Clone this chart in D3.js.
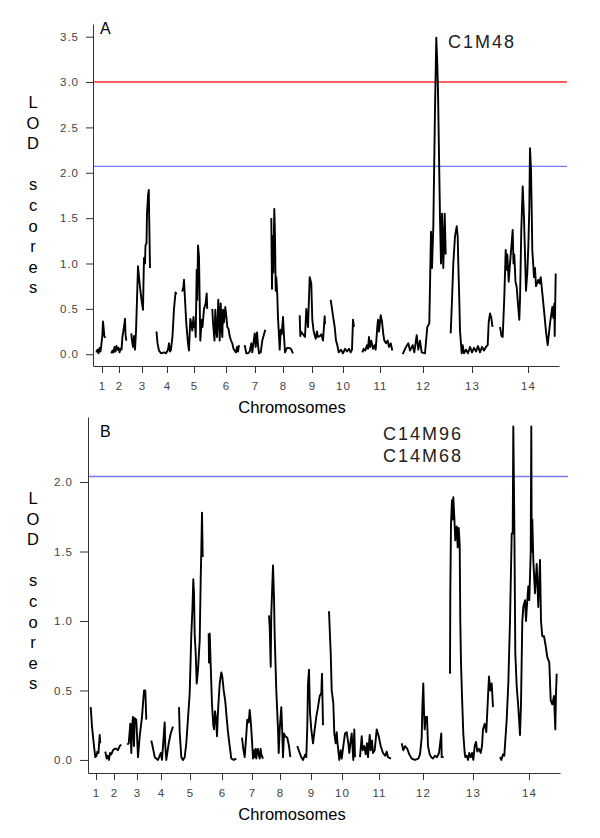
<!DOCTYPE html>
<html lang="en">
<head>
<meta charset="UTF-8">
<title>LOD scores by chromosome</title>
<script src="https://d3js.org/d3.v7.min.js"></script>
<style>
  body { margin: 0; background: #fff; font-family: Arial, "Liberation Sans", sans-serif; }
  .tick text { fill: #444; font-size: 11.5px; letter-spacing: 1px; font-family: Arial, "Liberation Sans", sans-serif; }
  .domain, .tick line { stroke: #333; }
  .lod { fill: none; stroke: #000; stroke-width: 1.9px; stroke-linejoin: round; }
  .side { font-size: 16.5px; fill: #000; }
  .marker { font-size: 18px; letter-spacing: 2px; fill: #222; }
</style>
</head>
<body>
<svg width="600" height="838"></svg>
<script>
const chromosomes = ["1","2","3","4","5","6","7","8","9","10","11","12","13","14"];
// chromosome label positions along the map, one list per panel
const chromPosA = [9, 26, 49, 74, 101, 133, 162, 190, 219, 250, 287, 330, 379, 435];
const chromPosB = [8, 26, 49, 73, 102, 134, 164, 192, 223, 254, 291, 335, 385, 441];
const yTicksA = [0, 0.5, 1, 1.5, 2, 2.5, 3, 3.5];
const yTicksB = [0, 0.5, 1, 1.5, 2];
const thresholdsA = [3.0, 2.07];
const thresholdsB = [2.04];
const markersA = ["C1M48"];
const markersB = ["C14M96", "C14M68"];

// panel A: [position, LOD] per chromosome
const lodA = [
  [[3.3,0.02],[4.5,0.05],[5.5,0.01],[6.5,0.07],[7.5,0.03],[8.5,0.12],[9.3,0.2],[10,0.36],[10.7,0.28],[11.3,0.2],[12.3,0.18]],
  [[18.3,0.01],[19.5,0.04],[20.5,0.02],[21.5,0.08],[22.5,0.03],[23.5,0.09],[24.5,0.05],[25.5,0.07],[26.5,0.02],[27.5,0.06],[28.5,0.05],[29.5,0.2],[31,0.3],[32,0.39],[32.5,0.22],[33.3,0.15]],
  [[38.3,0.23],[39,0.15],[40,0.08],[41,0.2],[42,0.05],[43,0.25],[44,0.6],[45,0.97],[46,0.85],[47,0.74],[48.5,0.6],[50,0.49],[50.5,0.8],[51,1.06],[52,1.0],[52.5,1.2],[53.5,1.22],[54,1.55],[55,1.75],[55.8,1.81],[56.2,1.5],[57,0.95]],
  [[63.5,0.25],[64.5,0.12],[66,0.04],[68,0.01],[71,0.02],[73,0.01],[75,0.05],[76,0.12],[77,0.03],[78,0.05],[79.5,0.2],[81,0.5],[82.5,0.68],[83.5,0.66]],
  [[89.3,0.69],[90.5,0.75],[91,0.82],[92,0.6],[93.3,0.34],[95,0.12],[96,0.04],[97.3,0.39],[98.5,0.33],[99.3,0.26],[100.5,0.41],[101,0.3],[102,0.35],[102.7,0.19],[103.7,0.93],[104.3,0.6],[105,1.2],[106,1.07],[107.3,0.15],[108.7,0.38],[109.5,0.3],[111,0.5],[112.5,0.55],[113.7,0.67],[114.2,0.5]],
  [[119.3,0.5],[120,0.35],[121.5,0.15],[122.3,0.49],[123,0.3],[124,0.19],[125.3,0.6],[126,0.4],[126.7,0.15],[127.7,0.56],[128.5,0.3],[129.3,0.19],[130,0.49],[131,0.35],[132.3,0.52],[133.5,0.4],[134.3,0.3],[135.5,0.28],[136.7,0.2],[138,0.15],[139.3,0.12],[140.5,0.06],[141.7,0.04],[143,0.02],[144,0.08],[145,0.03],[146,0.1]],
  [[151.7,0.1],[153.3,0.01],[155,0.01],[156.7,0.03],[158.3,0.12],[159.3,0.02],[161.7,0.23],[162.7,0.08],[164,0.24],[165,0.1],[166,0.01],[167.7,0.02],[169.3,0.15],[171,0.22],[172.3,0.27]],
  [[178.3,1.5],[179,0.72],[179.7,1.3],[180.3,0.9],[181.3,1.6],[182,1.3],[182.7,0.7],[183.3,0.85],[184.3,0.65],[185,0.4],[186,0.2],[186.7,0.05],[187.7,0.27],[188.7,0.22],[190,0.41],[191,0.2],[192,0.02],[194,0.07],[196,0.07],[198,0.06],[200,0.01]],
  [[206.7,0.43],[207.3,0.2],[208,0.25],[210,0.22],[212,0.19],[213.3,0.5],[215,0.3],[216.7,0.85],[218.3,0.78],[219.3,0.38],[220.7,0.25],[222.7,0.17],[224,0.25],[225,0.19],[227,0.2],[228.3,0.22],[230,0.15],[231.7,0.42],[232,0.33]],
  [[237.7,0.6],[239,0.5],[240.3,0.4],[241.7,0.3],[243,0.15],[244.3,0.1],[245.7,0.02],[248,0.05],[250,0.01],[252,0.06],[254,0.03],[256,0.06],[257.7,0.02],[259,0.05],[260,0.38],[261,0.3]],
  [[269.3,0.02],[270.7,0.06],[272.3,0.04],[274,0.1],[275,0.06],[276,0.19],[277,0.08],[278.3,0.15],[280,0.06],[281.7,0.1],[282.7,0.05],[284.3,0.3],[285,0.38],[286,0.25],[287.7,0.43],[289,0.36],[290.3,0.22],[291.3,0.15],[293,0.12],[294.7,0.15],[296,0.08],[297.7,0.12],[299.3,0.04]],
  [[309.7,0.0],[313,0.08],[315.3,0.12],[317,0.04],[319.7,0.1],[321.3,0.02],[323.7,0.21],[325.3,0.05],[327,0.15],[328.7,0.02],[332,0.01],[334.3,0.3],[336.3,0.34],[338,1.35],[339,0.95],[340.3,1.4],[342,2.7],[343.3,3.49],[344.3,3.2],[345,2.9],[346,2.2],[347,1.5],[348,1.0],[349,1.55],[350.3,0.95],[351.7,1.55],[352.7,1.1]],
  [[357.7,0.23],[359,0.6],[360.3,1.0],[362,1.3],[363.7,1.41],[364.7,1.3],[365.3,1.0],[366.3,0.6],[367,0.26],[368.7,0.01],[369.7,0.1],[371,0.01],[373,0.05],[375,0.01],[377,0.08],[379,0.02],[381,0.07],[383,0.03],[385,0.09],[387,0.02],[389,0.08],[391,0.04],[393,0.08],[394.7,0.1],[395.7,0.35],[397,0.45],[398.3,0.4],[399.5,0.3]],
  [[407,0.3],[408.5,0.2],[409.7,0.19],[411.3,0.63],[412.7,1.15],[413.5,0.93],[414.3,1.1],[415.7,0.8],[417,1.0],[418.5,1.2],[419.7,1.37],[420.5,1.0],[421.3,1.1],[422.5,0.8],[423.7,0.74],[425,0.55],[426.3,0.38],[427,0.6],[428.3,1.37],[429.7,1.85],[431,1.5],[433,0.7],[434.3,0.9],[435.3,1.18],[436.3,1.6],[437,2.27],[438,2.03],[438.7,1.6],[439.3,1.15],[441,0.85],[442,0.95],[443,0.75],[445.3,0.82],[446.5,0.78],[447.7,0.85],[449.7,0.63],[451.3,0.45],[453,0.25],[454.7,0.1],[457,0.34],[459.3,0.52],[460.3,0.4],[461.3,0.56],[461.7,0.2],[462.7,0.89]]
];

// panel B
const lodB = [
  [[2.7,0.38],[4,0.24],[6,0.1],[7.3,0.02],[8.5,0.03],[9.3,0.06],[10.5,0.05],[11.7,0.18],[12.3,0.12]],
  [[17.3,0.06],[18.7,0.01],[20,0.03],[21,0.0],[22,0.05],[23.3,0.04],[25,0.07],[26.7,0.08],[28.3,0.08],[30,0.07],[31.7,0.1],[33.3,0.11]],
  [[39.3,0.11],[40.7,0.12],[42.3,0.26],[43.3,0.05],[44.3,0.26],[45,0.31],[46,0.1],[46.7,0.3],[48.3,0.29],[50,0.02],[51.7,0.17],[54,0.31],[56,0.5],[57.3,0.5],[58.3,0.29]],
  [[63.3,0.14],[65.7,0.06],[66.7,0.02],[68.3,0.01],[70,0.0],[72.7,0.05],[74,0.0],[76.7,0.27],[77.3,0.1],[78.3,0.0],[80.7,0.12],[82.7,0.19],[85,0.24]],
  [[91,0.38],[91.7,0.2],[93.3,0.02],[95,0.0],[96.7,0.02],[98.3,0.12],[100,0.3],[101.7,0.48],[103.3,0.9],[104.5,1.1],[105.3,1.3],[106,1.2],[106.7,0.9],[107.7,0.77],[108.7,0.55],[110,0.65],[111.7,0.86],[112.7,1.3],[113.3,1.5],[114,1.78],[114.7,1.46]],
  [[120.7,0.91],[121,0.7],[121.7,0.91],[122.7,0.68],[124,0.4],[125.3,0.25],[126,0.22],[127,0.35],[128,0.3],[129,0.17],[130,0.35],[131.7,0.55],[133.3,0.63],[134.3,0.6],[135.7,0.5],[137.3,0.42],[138.7,0.3],[140,0.2],[141.7,0.1],[143.3,0.01],[145.7,0.0],[148.3,0.01]],
  [[154,0.16],[155.3,0.08],[156.7,0.02],[158,0.15],[159.3,0.29],[160.7,0.27],[161.7,0.36],[162.5,0.3],[163.3,0.22],[164.3,0.1],[165,0.01],[166,0.07],[166.7,0.02],[167.7,0.08],[168.3,0.01],[169.3,0.07],[170,0.08],[171,0.03],[171.7,0.01],[172.7,0.08],[173.3,0.04],[175,0.01]],
  [[181,1.04],[181.7,0.96],[182.7,0.67],[183.3,1.05],[185,1.4],[186,1.17],[186.7,0.89],[188.3,0.5],[190,0.22],[190.7,0.05],[191.7,0.22],[193.3,0.38],[194.3,0.19],[195,0.02],[196,0.19],[197.3,0.17],[199.3,0.16],[201,0.1],[202.3,0.02]],
  [[209.3,0.1],[210.7,0.07],[211.7,0.05],[213.3,0.02],[215,0.0],[217.3,0.04],[218.3,0.02],[219.3,0.24],[220,0.55],[221,0.65],[222,0.34],[223.3,0.22],[225,0.12],[226.7,0.22],[228.3,0.31],[230,0.38],[231.7,0.46],[233.3,0.48],[234,0.62],[235,0.25]],
  [[241,1.07],[242.7,0.77],[243.7,0.5],[245.3,0.41],[246.3,0.19],[247.7,0.12],[248.7,0.2],[249.5,0.12],[250.3,0.07],[251.3,0.0],[252.7,0.07],[253.7,0.01],[255.3,0.1],[257,0.19],[258.7,0.2],[260.3,0.12],[261.3,0.05],[262.7,0.14],[263.7,0.19],[265.3,0.0],[266.3,0.22],[267,0.02]],
  [[272,0.02],[273.7,0.17],[274.7,0.07],[276.3,0.1],[277.7,0.04],[279,0.12],[280,0.02],[281.7,0.18],[282.7,0.07],[284,0.14],[285,0.05],[286.7,0.07],[288.7,0.22],[290.7,0.17],[292.7,0.1],[295,0.05],[297.3,0.03],[298.7,0.06],[300,0.02],[303,0.01]],
  [[313.7,0.12],[315.3,0.07],[317,0.1],[319.3,0.08],[321.3,0.04],[323.7,0.01],[327,0.0],[330.3,0.01],[332,0.04],[333.7,0.16],[334.3,0.37],[335.3,0.55],[336,0.35],[336.7,0.22],[337.7,0.31],[339,0.31],[340,0.1],[341.7,0.04],[343.3,0.02],[345,0.01],[347,0.03],[349,0.02],[351,0.05],[353.3,0.19],[353.7,0.02],[355.7,0.02]],
  [[362,0.62],[362.3,1.2],[363,1.7],[364,1.87],[364.7,1.73],[365.3,1.89],[366.3,1.75],[367.3,1.58],[368.7,1.68],[369.7,1.53],[370.7,1.67],[371.7,1.55],[372.3,1.0],[373,0.7],[374,0.46],[375.3,0.19],[376.7,0.05],[377.3,0.02],[378.7,0.03],[380,0.0],[381.3,0.05],[382.7,0.02],[384,0.05],[385.3,0.0],[386.7,0.1],[388,0.13],[389.3,0.06],[391,0.08],[392.7,0.05],[394,0.1],[395,0.22],[396.7,0.26],[398.3,0.2],[399.7,0.41],[401,0.6],[402.3,0.5],[403.7,0.55],[405,0.38]],
  [[412,0.02],[413.3,0.0],[415,0.04],[416.3,0.03],[418.7,0.29],[420.3,0.55],[422,1.0],[423.7,1.63],[424.7,1.63],[425.3,2.4],[426.3,1.73],[427.3,0.77],[428.7,0.53],[430.3,0.38],[432,0.18],[433,0.4],[434.3,1.0],[435.3,1.1],[437,1.15],[438,1.0],[439.3,1.15],[440.3,1.25],[441.3,1.15],[442.7,1.49],[443.3,2.4],[443.7,1.5],[444.3,1.73],[445.3,1.44],[447,1.2],[448.7,1.41],[450.3,1.1],[452,1.44],[453,1.0],[454.3,0.89],[456,0.89],[457.7,0.82],[459.3,0.74],[461.3,0.7],[462.7,0.43],[464.3,0.4],[466,0.46],[467.3,0.22],[468,0.48],[468.7,0.62]]
];

const svg = d3.select("svg");

const panels = [
  { label: "A", lod: lodA, chromPos: chromPosA, yTicks: yTicksA, thresholds: thresholdsA,
    colors: ["#ff2a2a", "#7878ff"], markers: markersA,
    left: 93, right: 559, top: 24, bottom: 366, xMax: 466, yLo: -0.13, yHi: 3.64,
    lineEnd: 567, tickLen: 7, markerX: 448, markerY: 48, lodY: 108, titleY: 413, labelY: 34 },
  { label: "B", lod: lodB, chromPos: chromPosB, yTicks: yTicksB, thresholds: thresholdsB,
    colors: ["#7878ff"], markers: markersB,
    left: 88, right: 560, top: 417, bottom: 773, xMax: 472, yLo: -0.094, yHi: 2.468,
    lineEnd: 568, tickLen: 8, markerX: 383, markerY: 440, lodY: 504, titleY: 820, labelY: 437 }
];

panels.forEach(p => {
  const x = d3.scaleLinear().domain([0, p.xMax]).range([p.left, p.right]);
  const y = d3.scaleLinear().domain([p.yLo, p.yHi]).range([p.bottom, p.top]);
  const g = svg.append("g");

  // threshold lines
  g.selectAll(".thr")
    .data(p.thresholds)
    .enter()
    .append("line")
    .attr("x1", p.left)
    .attr("x2", p.lineEnd)
    .attr("y1", d => y(d))
    .attr("y2", d => y(d))
    .attr("stroke", (d, i) => p.colors[i])
    .attr("stroke-width", 1.4);

  // LOD curves, one path per chromosome
  const line = d3.line().x(d => x(d[0])).y(d => y(d[1]));
  g.selectAll(".lod")
    .data(p.lod)
    .enter()
    .append("path")
    .attr("class", "lod")
    .attr("d", line);

  // axes
  g.append("g")
    .attr("transform", `translate(${p.left},0)`)
    .call(d3.axisLeft(y).tickValues(p.yTicks).tickFormat(d3.format(".1f"))
      .tickSize(p.tickLen).tickSizeOuter(0).tickPadding(7));

  g.append("g")
    .attr("transform", `translate(0,${p.bottom})`)
    .call(d3.axisBottom(x).tickValues(p.chromPos).tickFormat((d, i) => chromosomes[i])
      .tickSize(7).tickSizeOuter(0).tickPadding(9));

  // labels
  g.append("text")
    .attr("x", 100)
    .attr("y", p.labelY)
    .attr("font-size", 16)
    .text(p.label);

  g.append("text")
    .attr("class", "side")
    .attr("x", 292)
    .attr("y", p.titleY)
    .attr("text-anchor", "middle")
    .text("Chromosomes");

  g.selectAll(".lodchar")
    .data("LOD scores".split(""))
    .enter()
    .append("text")
    .attr("class", "side")
    .attr("x", 33)
    .attr("y", (d, i) => p.lodY + i * 20.6)
    .attr("text-anchor", "middle")
    .text(d => d);

  g.selectAll(".marker")
    .data(p.markers)
    .enter()
    .append("text")
    .attr("class", "marker")
    .attr("x", p.markerX)
    .attr("y", (d, i) => p.markerY + i * 21.7)
    .text(d => d);
});
</script>
</body>
</html>
